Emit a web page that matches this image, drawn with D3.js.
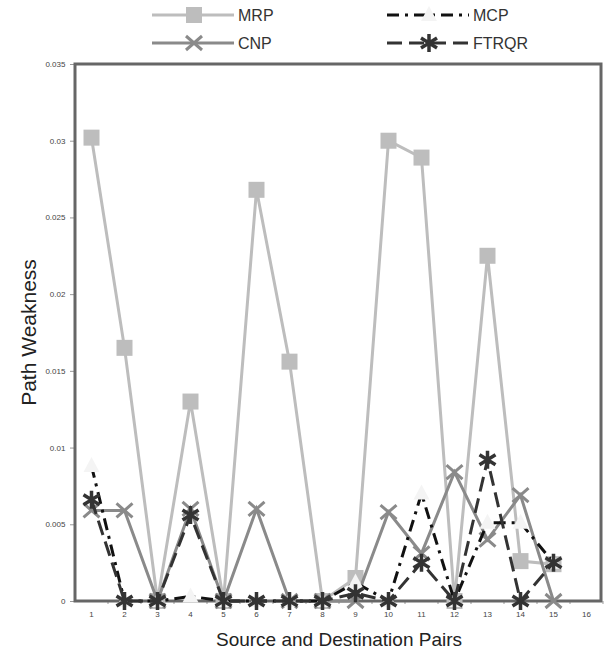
<!DOCTYPE html>
<html>
<head>
<script src="https://d3js.org/d3.v7.min.js"></script>
<style>
  body { margin: 0; background: #fff; }
  text { font-family: "Liberation Sans", Arial, sans-serif; }
</style>
</head>
<body>
<svg id="chart"></svg>
<script>
const pairs = d3.range(1, 17);
const yTicks = [0, 0.005, 0.01, 0.015, 0.02, 0.025, 0.03, 0.035];

const mrp   = [0.0302, 0.0165, 0, 0.0130, 0, 0.0268, 0.0156, 0, 0.0015, 0.0300, 0.0289, 0, 0.0225, 0.0026, 0.0024];
const cnp   = [0.0059, 0.0059, 0, 0.0060, 0, 0.0060, 0, 0, 0, 0.0058, 0.0031, 0.0084, 0.0040, 0.0069, 0];
const mcp   = [0.0088, 0, 0, 0.0003, 0, 0, 0, 0, 0.0012, 0, 0.0070, 0, 0.0051, 0.0051, 0.0025];
const ftrqr = [0.0066, 0, 0, 0.0056, 0, 0, 0, 0, 0.0005, 0, 0.0025, 0, 0.0092, 0, 0.0025];

const width = 607, height = 656;
const margin = { top: 64, right: 4, bottom: 55, left: 75 };

const svg = d3.select("#chart")
  .attr("width", width)
  .attr("height", height)
  .attr("viewBox", [0, 0, width, height]);

const x = d3.scaleBand()
  .domain(pairs)
  .range([margin.left, width - margin.right]);
const y = d3.scaleLinear()
  .domain([0, 0.035])
  .range([height - margin.bottom, margin.top]);

const cx = i => x(i + 1) + x.bandwidth() / 2;

// axes
const xAxis = svg.append("g")
  .attr("transform", `translate(0,${height - margin.bottom})`)
  .call(d3.axisBottom(x).tickSize(3).tickSizeOuter(0));
xAxis.select(".domain").remove();
xAxis.selectAll("line").attr("stroke", "#999").attr("transform", `translate(${x.bandwidth() / 2},0)`);
xAxis.selectAll("text").attr("fill", "#444").style("font-size", "8px").attr("dy", "1.3em");

const yAxis = svg.append("g")
  .attr("transform", `translate(${margin.left},0)`)
  .call(d3.axisLeft(y).tickValues(yTicks).tickFormat(d => d === 0 ? "0" : String(+d.toFixed(3))).tickSize(5).tickSizeOuter(0));
yAxis.select(".domain").remove();
yAxis.selectAll("line").attr("stroke", "#999");
yAxis.selectAll("text").attr("fill", "#444").style("font-size", "8px").attr("dx", "-0.2em");

// frame
svg.append("rect")
  .attr("x", margin.left)
  .attr("y", margin.top)
  .attr("width", width - margin.left - margin.right - 2)
  .attr("height", height - margin.top - margin.bottom)
  .attr("fill", "none")
  .attr("stroke", "#666")
  .attr("stroke-width", 3);

const line = d3.line().x((d, i) => cx(i)).y(d => y(d));

const series = [
  { name: "MRP", values: mrp, color: "#bdbdbd", dash: null, marker: "square" },
  { name: "CNP", values: cnp, color: "#8a8a8a", dash: null, marker: "cross" },
  { name: "MCP", values: mcp, color: "#111", dash: "12,6,3,6", marker: "triangle" },
  { name: "FTRQR", values: ftrqr, color: "#333", dash: "15,7", marker: "star" }
];

function drawMarker(g, type, px, py, color) {
  if (type === "square") {
    g.append("rect").attr("x", px - 8).attr("y", py - 8).attr("width", 16).attr("height", 16)
      .attr("fill", color);
  } else if (type === "cross") {
    g.append("path").attr("d", `M${px - 8},${py - 7}L${px + 8},${py + 7}M${px - 8},${py + 7}L${px + 8},${py - 7}`)
      .attr("stroke", color).attr("stroke-width", 3).attr("fill", "none");
  } else if (type === "triangle") {
    g.append("path").attr("d", `M${px},${py - 9}L${px + 8},${py + 6}L${px - 8},${py + 6}Z`)
      .attr("fill", "#f4f4f4");
  } else if (type === "star") {
    g.append("path").attr("d", `M${px},${py - 9}V${py + 9}M${px - 8},${py - 5}L${px + 8},${py + 5}M${px - 8},${py + 5}L${px + 8},${py - 5}`)
      .attr("stroke", color).attr("stroke-width", 3.5).attr("fill", "none");
  }
}

series.forEach(s => {
  const g = svg.append("g");
  g.append("path")
    .datum(s.values)
    .attr("d", line)
    .attr("fill", "none")
    .attr("stroke", s.color)
    .attr("stroke-width", 3)
    .attr("stroke-dasharray", s.dash);
  s.values.forEach((v, i) => drawMarker(g, s.marker, cx(i), y(v), s.color));
});

// legend
const legendPos = [
  { x: 152, y: 15 }, { x: 152, y: 43 }, { x: 387, y: 15 }, { x: 387, y: 43 }
];
series.forEach((s, i) => {
  const p = legendPos[i];
  const g = svg.append("g");
  g.append("line")
    .attr("x1", p.x).attr("x2", p.x + 82)
    .attr("y1", p.y).attr("y2", p.y)
    .attr("stroke", s.color)
    .attr("stroke-width", 3)
    .attr("stroke-dasharray", s.dash);
  drawMarker(g, s.marker, p.x + 42, p.y, s.color);
  g.append("text")
    .attr("x", p.x + 86)
    .attr("y", p.y)
    .attr("dy", "0.35em")
    .attr("fill", "#333")
    .style("font-size", "16px")
    .text(s.name);
});

// axis titles
svg.append("text")
  .attr("transform", `translate(36,${(margin.top + height - margin.bottom) / 2}) rotate(-90)`)
  .attr("text-anchor", "middle")
  .attr("fill", "#222")
  .style("font-size", "21px")
  .text("Path Weakness");

svg.append("text")
  .attr("x", (margin.left + width - margin.right) / 2)
  .attr("y", 646)
  .attr("text-anchor", "middle")
  .attr("fill", "#222")
  .style("font-size", "19px")
  .text("Source and Destination Pairs");
</script>
</body>
</html>
